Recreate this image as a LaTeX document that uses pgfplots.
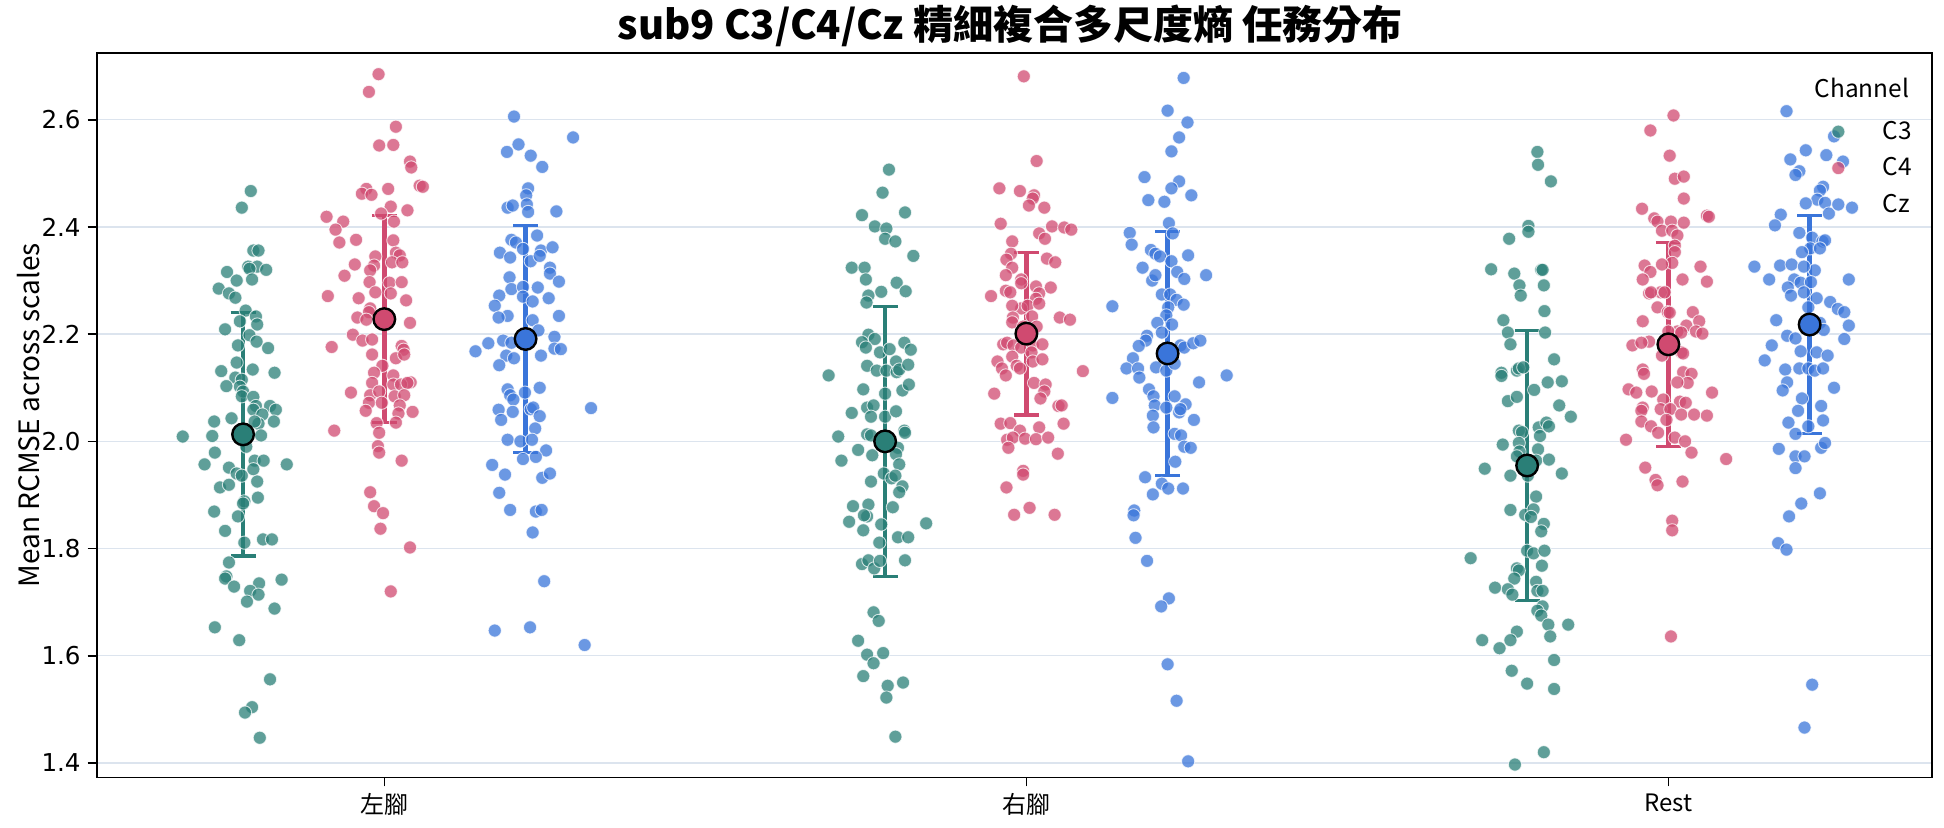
\documentclass[border=0pt]{standalone}
\usepackage{pgfplots}
\pgfplotsset{compat=1.18}
\usepackage{pgfplotstable}
\usepackage{fontspec}
\setmainfont{Noto Sans CJK TC}
\newfontfamily\numfont{DejaVu Sans}

\definecolor{cCthree}{HTML}{2A7F77}
\definecolor{cCfour}{HTML}{D04A70}
\definecolor{cCz}{HTML}{3A75DA}
\definecolor{gridc}{HTML}{DCE4EE}

% Per-trial mean RCMSE; j = horizontal jitter in thousandths of a category
\pgfplotstableread{
j y
12 2.467
-2 2.436
16 2.356
24 2.356
-25 2.316
8 2.326
22 2.326
36 2.320
10 2.322
-10 2.300
14 2.302
-38 2.285
-22 2.276
-12 2.268
4 2.244
20 2.233
-5 2.224
22 2.218
-28 2.209
10 2.198
21 2.186
-8 2.179
39 2.174
-34 2.131
-10 2.147
15 2.134
49 2.128
-12 2.119
-2 2.115
-26 2.103
-5 2.102
0 2.093
-2 2.084
16 2.083
20 2.066
42 2.066
51 2.059
16 2.059
30 2.050
-18 2.043
-45 2.037
48 2.037
24 2.033
18 2.037
28 2.011
-94 2.009
-48 2.010
5 1.990
-44 1.979
-60 1.957
68 1.957
18 1.964
32 1.964
-22 1.951
-10 1.940
-2 1.936
16 1.948
22 1.925
-36 1.914
-22 1.919
2 1.888
0 1.884
23 1.895
-45 1.869
-8 1.860
-28 1.833
2 1.811
31 1.817
45 1.817
-22 1.774
-26 1.748
-28 1.744
-14 1.729
25 1.735
60 1.742
11 1.721
24 1.714
6 1.701
49 1.688
-44 1.653
-6 1.629
42 1.556
14 1.504
3 1.494
26 1.447
}\ltThree

\pgfplotstableread{
j y
-9 2.685
-24 2.652
18 2.587
-8 2.552
14 2.553
40 2.522
42 2.511
55 2.477
60 2.475
-28 2.471
-35 2.462
-20 2.460
6 2.471
10 2.438
36 2.431
-5 2.425
-90 2.419
-64 2.410
15 2.410
-76 2.395
-70 2.371
-44 2.376
14 2.375
-14 2.345
18 2.352
24 2.347
-16 2.328
12 2.334
28 2.334
-46 2.330
-62 2.309
-22 2.319
-23 2.297
8 2.296
27 2.297
-14 2.278
10 2.276
-88 2.271
-40 2.267
34 2.263
-22 2.248
-24 2.241
-42 2.231
-28 2.227
40 2.221
-49 2.199
-34 2.188
-19 2.190
-82 2.176
27 2.178
30 2.171
-19 2.162
18 2.155
31 2.162
-3 2.141
-16 2.128
14 2.123
41 2.110
-19 2.109
14 2.106
26 2.106
36 2.109
-52 2.091
-22 2.086
-8 2.093
16 2.084
31 2.086
-24 2.072
-4 2.072
24 2.067
-29 2.057
44 2.055
22 2.052
-12 2.034
18 2.035
-78 2.020
-8 2.016
-10 1.991
-8 1.979
27 1.964
-22 1.905
-16 1.879
-2 1.866
-6 1.837
40 1.802
10 1.720
}\ltFour

\pgfplotstableread{
j y
-18 2.606
74 2.567
-11 2.554
-29 2.540
8 2.533
26 2.512
4 2.472
1 2.459
2 2.442
-28 2.436
-20 2.440
4 2.428
48 2.429
-22 2.376
-15 2.371
18 2.384
-40 2.352
-24 2.343
-4 2.359
8 2.336
24 2.356
22 2.346
42 2.362
38 2.324
38 2.313
-25 2.306
52 2.298
-22 2.284
-4 2.288
19 2.287
-41 2.272
-4 2.270
11 2.261
36 2.267
-48 2.253
-28 2.234
-42 2.231
52 2.234
11 2.226
20 2.207
-58 2.183
-35 2.188
-78 2.168
-22 2.184
45 2.195
45 2.173
55 2.172
24 2.160
-30 2.160
-18 2.155
-41 2.142
-28 2.097
-24 2.086
-19 2.078
-1 2.091
22 2.100
-42 2.059
-20 2.055
-38 2.040
8 2.060
12 2.063
22 2.047
15 2.024
-28 2.003
-8 2.000
10 2.003
32 1.983
-4 1.967
16 1.971
-52 1.956
-32 1.938
26 1.932
38 1.940
-41 1.904
-24 1.872
16 1.869
25 1.872
11 1.830
102 2.062
29 1.739
-48 1.647
7 1.653
92 1.620
}\ltZ

\pgfplotstableread{
j y
6 2.507
-4 2.464
-36 2.422
31 2.427
-16 2.401
2 2.397
0 2.378
16 2.373
44 2.346
-52 2.324
-32 2.324
-30 2.302
18 2.296
-6 2.279
32 2.280
-26 2.272
-29 2.259
-26 2.199
-36 2.185
-16 2.191
-30 2.175
-8 2.166
7 2.172
30 2.184
40 2.171
17 2.149
-28 2.141
-13 2.132
2 2.132
18 2.129
22 2.134
36 2.143
-88 2.123
-34 2.097
0 2.089
27 2.095
37 2.106
-52 2.053
-28 2.063
-18 2.067
-22 2.046
0 2.046
17 2.056
-28 2.013
-22 2.011
-73 2.009
30 2.020
31 2.016
-42 1.984
-20 1.974
-68 1.964
20 1.988
17 1.976
22 1.957
-2 1.940
10 1.931
16 1.936
27 1.916
22 1.905
-22 1.925
-50 1.879
-26 1.882
-28 1.860
-33 1.862
-56 1.850
12 1.877
-34 1.834
-6 1.845
-9 1.811
20 1.821
36 1.821
64 1.847
-36 1.771
-26 1.778
-17 1.763
-8 1.777
31 1.778
-18 1.681
-10 1.665
-42 1.628
-28 1.602
-18 1.586
-3 1.605
-34 1.562
4 1.544
28 1.550
2 1.522
16 1.449
}\rtThree

\pgfplotstableread{
j y
-4 2.681
16 2.523
-42 2.472
-10 2.467
12 2.459
10 2.453
4 2.440
28 2.436
-40 2.406
40 2.401
59 2.399
70 2.395
20 2.388
29 2.378
-22 2.373
-24 2.350
-31 2.339
32 2.341
45 2.334
-22 2.324
-32 2.310
-8 2.302
-8 2.295
15 2.289
38 2.287
-55 2.271
-32 2.281
-25 2.278
20 2.276
15 2.266
-8 2.248
2 2.253
-22 2.253
20 2.257
-21 2.231
9 2.233
-22 2.222
-5 2.214
16 2.214
52 2.231
68 2.227
-36 2.181
-30 2.184
-20 2.179
-8 2.175
10 2.179
25 2.181
8 2.166
-22 2.158
-45 2.149
-38 2.136
-15 2.141
-10 2.136
10 2.149
25 2.153
-32 2.123
12 2.109
30 2.106
28 2.093
22 2.080
-50 2.089
50 2.066
55 2.067
-40 2.033
-25 2.034
-10 2.020
20 2.026
58 2.033
-30 2.003
-21 2.007
-2 2.005
15 2.004
34 2.007
-28 1.988
49 1.977
-5 1.945
-5 1.938
-31 1.914
5 1.876
-19 1.863
44 1.863
88 2.131
}\rtFour

\pgfplotstableread{
j y
25 2.678
0 2.617
31 2.595
18 2.567
6 2.541
-36 2.493
18 2.485
6 2.472
-30 2.450
-5 2.447
37 2.459
2 2.407
8 2.388
-59 2.389
-56 2.367
-26 2.357
-19 2.350
-12 2.345
6 2.336
32 2.347
-39 2.324
-24 2.300
-19 2.310
15 2.316
26 2.303
60 2.310
-9 2.274
4 2.274
14 2.264
25 2.255
1 2.250
-2 2.235
-86 2.252
-16 2.221
7 2.218
-9 2.203
-32 2.197
-34 2.188
-45 2.178
20 2.179
26 2.175
40 2.183
51 2.188
-54 2.155
-64 2.136
-46 2.136
-44 2.119
-18 2.138
-2 2.132
11 2.145
49 2.110
92 2.123
-29 2.097
-22 2.084
-20 2.067
-2 2.063
11 2.084
28 2.069
18 2.054
20 2.060
-23 2.048
41 2.040
-22 2.026
11 2.014
21 2.011
26 1.990
36 1.988
-86 2.081
12 1.962
-35 1.933
-23 1.901
-9 1.921
1 1.912
24 1.912
-52 1.871
-53 1.862
-50 1.820
-32 1.777
2 1.707
-10 1.692
0 1.584
14 1.516
32 1.403
}\rtZ

\pgfplotstableread{
j y
16 2.540
17 2.516
37 2.485
2 2.402
2 2.391
-28 2.378
-56 2.321
-20 2.313
22 2.320
24 2.320
-12 2.291
26 2.291
-10 2.272
27 2.243
-37 2.226
-30 2.203
28 2.203
-26 2.181
-40 2.128
-40 2.122
-16 2.132
-13 2.136
-6 2.138
42 2.153
11 2.096
32 2.110
54 2.112
-30 2.075
-16 2.083
50 2.067
68 2.046
-13 2.020
-8 2.017
18 2.026
20 2.010
30 2.035
34 2.028
-38 1.994
-13 1.997
-12 1.981
17 1.985
-16 1.972
-66 1.949
-26 1.936
14 1.964
34 1.966
54 1.940
1 1.936
14 1.897
-26 1.872
-3 1.863
10 1.873
6 1.859
26 1.846
22 1.832
-88 1.782
0 1.796
10 1.791
27 1.796
-16 1.763
-13 1.759
23 1.768
-20 1.744
-50 1.727
-30 1.724
-23 1.714
14 1.738
16 1.721
24 1.721
24 1.692
16 1.684
22 1.675
33 1.658
64 1.658
36 1.636
-16 1.645
-70 1.629
-43 1.614
-26 1.629
42 1.592
-24 1.572
0 1.548
42 1.538
26 1.420
-19 1.397
}\rsThree

\pgfplotstableread{
j y
8 2.608
-28 2.580
2 2.533
10 2.490
24 2.494
24 2.453
-41 2.434
-22 2.416
-17 2.410
4 2.410
24 2.408
60 2.421
63 2.419
-10 2.393
6 2.393
14 2.384
10 2.365
10 2.353
6 2.333
-10 2.330
-37 2.328
-28 2.316
-40 2.302
22 2.302
50 2.326
60 2.298
-30 2.276
-12 2.278
-27 2.278
-6 2.278
-17 2.250
-1 2.241
2 2.240
-40 2.224
38 2.241
48 2.224
28 2.216
14 2.205
0 2.205
20 2.203
43 2.205
53 2.201
-30 2.186
-56 2.179
-42 2.184
-10 2.160
20 2.166
23 2.164
-40 2.134
-38 2.126
23 2.129
36 2.126
30 2.109
14 2.110
-62 2.097
-50 2.091
-26 2.093
68 2.091
-8 2.078
18 2.074
27 2.072
-40 2.063
-42 2.057
-12 2.060
3 2.060
20 2.050
40 2.050
60 2.048
-42 2.037
-27 2.028
-16 2.016
-3 2.040
10 2.007
26 2.000
-66 2.003
36 1.979
90 1.967
-36 1.951
-20 1.928
-17 1.918
22 1.925
6 1.852
6 1.834
4 1.636
}\rsFour

\pgfplotstableread{
j y
-36 2.616
38 2.569
-30 2.526
-6 2.543
26 2.534
52 2.522
-16 2.504
-22 2.497
21 2.475
16 2.468
12 2.451
24 2.445
-6 2.444
30 2.425
66 2.436
-45 2.423
-54 2.403
-16 2.389
4 2.380
20 2.373
24 2.375
1 2.360
16 2.360
-12 2.353
-86 2.326
-46 2.328
-28 2.330
8 2.319
-9 2.326
-63 2.302
-24 2.302
-14 2.296
2 2.297
61 2.302
-34 2.287
-29 2.272
-9 2.278
11 2.267
32 2.260
-2 2.250
44 2.247
54 2.241
-52 2.226
16 2.221
22 2.208
61 2.216
-35 2.197
-22 2.192
54 2.191
-59 2.179
-14 2.168
11 2.166
28 2.160
-70 2.151
-16 2.136
-2 2.136
8 2.132
21 2.136
-38 2.134
-35 2.110
-42 2.095
38 2.100
-12 2.080
18 2.066
-18 2.057
-33 2.035
21 2.039
-2 2.028
-22 2.014
-48 1.986
18 1.988
24 1.997
-22 1.972
-8 1.972
-22 1.950
16 1.903
-13 1.884
-32 1.860
-49 1.810
-36 1.798
4 1.546
-8 1.466
}\rsZ

% Channel means with one standard deviation
\pgfplotstableread{
x y e
-0.22 2.013 0.227
0.78 2.000 0.252
1.78 1.955 0.252
}\meanThree
\pgfplotstableread{
x y e
0 2.228 0.193
1 2.201 0.152
2 2.181 0.190
}\meanFour
\pgfplotstableread{
x y e
0.22 2.191 0.212
1.22 2.164 0.228
2.22 2.218 0.203
}\meanZ

\pgfplotsset{
  pts/.style={only marks, mark=*, mark size=3.3pt,
    mark options={fill=#1, draw=white, line width=0.45pt, opacity=0.75}},
  sdbar/.style={draw=none, mark=none, forget plot,
    error bars/.cd, y dir=both, y explicit,
    error bar style={draw=#1, line width=2.2pt},
    error mark options={rotate=90, mark size=6.25pt, line width=1.6pt, draw=#1}},
  meanmk/.style={only marks, mark=*, mark size=5.4pt, forget plot,
    mark options={fill=#1, draw=black, line width=1.2pt}},
}

\begin{document}
\begin{tikzpicture}
\begin{axis}[
  scale only axis,
  width=917.45pt, height=362.05pt,
  xmin=-0.448, xmax=2.410,
  ymin=1.373, ymax=2.724,
  xtick={0,1,2},
  xticklabels={左腳,右腳,Rest},
  ytick={1.4,1.6,1.8,2.0,2.2,2.4,2.6},
  yticklabel style={font=\numfont\fontsize{12.3}{14}\selectfont,
    /pgf/number format/.cd, fixed, fixed zerofill, precision=1, assume math mode=true},
  xticklabel style={font=\fontsize{12}{14}\selectfont},
  xtick pos=left, ytick pos=left,
  tick align=outside,
  major tick length=4.5pt,
  tick style={black, line width=0.8pt},
  axis line style={black, line width=0.9pt},
  ymajorgrids,
  major grid style={gridc, line width=0.7pt},
  ylabel={Mean RCMSE across scales},
  ylabel style={font=\fontsize{14}{16}\selectfont, at={(axis description cs:-0.037,0.5)}, anchor=center},
  title={sub9 C3/C4/Cz 精細複合多尺度熵 任務分布},
  every axis title/.style={at={(axis description cs:0.4978,1)}, anchor=center, yshift=13.6pt,
    font=\fontsize{20}{22}\selectfont\bfseries},
  legend style={at={(axis description cs:0.995,0.918)}, anchor=north east,
    draw=none, fill=none, font=\fontsize{12.2}{14}\selectfont, row sep=3.6pt,
    /tikz/every odd column/.append style={column sep=17pt}},
  legend cell align=left,
]
\addlegendimage{pts=cCthree}
\addlegendentry{C3}
\addlegendimage{pts=cCfour}
\addlegendentry{C4}
\addlegendimage{pts=cCz}
\addlegendentry{Cz}

% jittered points, dodged by channel within each task
\addplot[pts=cCthree, forget plot] table[x expr={-0.22+0.001*\thisrow{j}}, y=y] {\ltThree};
\addplot[pts=cCthree, forget plot] table[x expr={0.78+0.001*\thisrow{j}}, y=y] {\rtThree};
\addplot[pts=cCthree, forget plot] table[x expr={1.78+0.001*\thisrow{j}}, y=y] {\rsThree};
\addplot[pts=cCfour, forget plot] table[x expr={0.001*\thisrow{j}}, y=y] {\ltFour};
\addplot[pts=cCfour, forget plot] table[x expr={1+0.001*\thisrow{j}}, y=y] {\rtFour};
\addplot[pts=cCfour, forget plot] table[x expr={2+0.001*\thisrow{j}}, y=y] {\rsFour};
\addplot[pts=cCz, forget plot] table[x expr={0.22+0.001*\thisrow{j}}, y=y] {\ltZ};
\addplot[pts=cCz, forget plot] table[x expr={1.22+0.001*\thisrow{j}}, y=y] {\rtZ};
\addplot[pts=cCz, forget plot] table[x expr={2.22+0.001*\thisrow{j}}, y=y] {\rsZ};

% mean +/- SD
\addplot[sdbar=cCthree] table[x=x, y=y, y error=e] {\meanThree};
\addplot[sdbar=cCfour] table[x=x, y=y, y error=e] {\meanFour};
\addplot[sdbar=cCz] table[x=x, y=y, y error=e] {\meanZ};
\addplot[meanmk=cCthree] table[x=x, y=y] {\meanThree};
\addplot[meanmk=cCfour] table[x=x, y=y] {\meanFour};
\addplot[meanmk=cCz] table[x=x, y=y] {\meanZ};

\node[font=\fontsize{12.2}{14}\selectfont, anchor=center] at (axis description cs:0.962,0.952) {Channel};

\coordinate (bbsw) at (rel axis cs:0,0);
\coordinate (bbne) at (rel axis cs:1,1);
\end{axis}
\pgfresetboundingbox
\path[use as bounding box] ([xshift=-48.35pt,yshift=-24.8pt]bbsw) rectangle ([xshift=6.2pt,yshift=26.65pt]bbne);
\end{tikzpicture}
\end{document}
